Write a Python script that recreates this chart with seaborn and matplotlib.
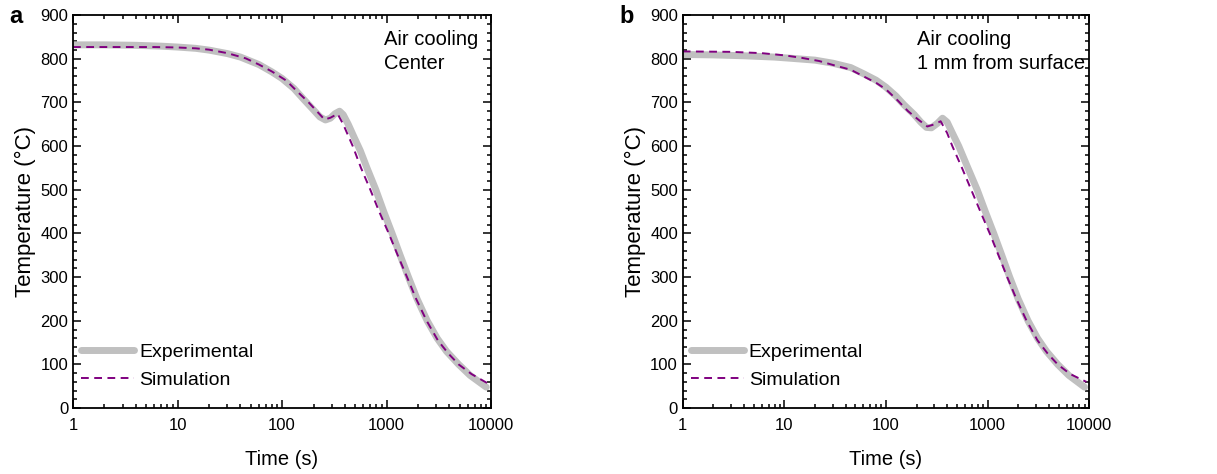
import matplotlib
matplotlib.use("Agg")
import matplotlib.pyplot as plt
from matplotlib.ticker import LogLocator, MultipleLocator, NullFormatter
import numpy as np
import pandas as pd
import seaborn as sns

# Panel a : center of sample
time_a_exp = [1, 2, 4, 7, 10, 15, 20, 30, 40, 60, 80, 100, 130, 160, 200, 230, 260,
              290, 320, 355, 385, 430, 490, 560, 650, 790, 940, 1130, 1350, 1620,
              1960, 2450, 3050, 3750, 4900, 6300, 9000]
temp_a_exp = [832, 832, 831, 829, 827, 824, 820, 812, 804, 787, 770, 755, 732, 708,
              683, 667, 660, 664, 674, 680, 672, 650, 620, 590, 550, 500, 450, 400,
              350, 300, 250, 200, 160, 130, 100, 75, 48]
time_a_sim = [1, 3, 6, 10, 15, 20, 30, 45, 60, 80, 110, 140, 180, 225, 255, 290, 340,
              385, 475, 570, 700, 850, 1050, 1280, 1570, 1920, 2420, 3100, 3900, 4900,
              6500, 9400]
temp_a_sim = [827, 827, 827, 826, 824, 821, 813, 801, 787, 771, 750, 725, 700, 675,
              661, 665, 674, 650, 600, 550, 500, 450, 400, 350, 300, 250, 200, 155,
              125, 100, 78, 56]

# Panel b : 1 mm from surface
time_b_exp = [1, 2, 4, 8, 12, 20, 30, 45, 60, 80, 100, 125, 150, 190, 220, 250, 280,
              320, 360, 400, 450, 520, 640, 790, 950, 1150, 1380, 1650, 2000, 2500,
              3100, 3800, 4900, 6300, 9000]
temp_b_exp = [810, 809, 807, 804, 801, 797, 790, 780, 766, 751, 735, 715, 695, 672,
              655, 643, 642, 652, 664, 655, 630, 600, 550, 500, 450, 400, 350, 300,
              250, 200, 160, 130, 100, 75, 48]
time_b_sim = [1, 3, 6, 10, 15, 22, 30, 45, 60, 80, 100, 130, 165, 210, 255, 300, 345,
              400, 450, 560, 690, 850, 1050, 1280, 1560, 1920, 2420, 3100, 3900, 4900,
              6500, 9400]
temp_b_sim = [817, 816, 813, 808, 802, 795, 786, 775, 760, 745, 730, 705, 680, 660,
              645, 650, 657, 630, 600, 550, 500, 450, 400, 350, 300, 250, 200, 155,
              125, 100, 78, 60]

panel_labels = ["a", "b"]
notes = ["Air cooling\nCenter", "Air cooling\n1 mm from surface"]

sns.set_theme(style="ticks")
plt.rcParams["font.family"] = ["Liberation Sans", "DejaVu Sans"]
plt.rcParams["text.color"] = "black"
plt.rcParams["axes.labelcolor"] = "black"

fig = plt.figure(figsize=(12.17, 4.74), dpi=100)
ax_a = fig.add_axes([0.060, 0.139, 0.3435, 0.829])
ax_b = fig.add_axes([0.561, 0.139, 0.334, 0.829])

panels = [
    (ax_a, time_a_exp, temp_a_exp, time_a_sim, temp_a_sim, 0.745),
    (ax_b, time_b_exp, temp_b_exp, time_b_sim, temp_b_sim, 0.577),
]

for i, (ax, tx, yx, ts, ys, note_x) in enumerate(panels):
    exp_df = pd.DataFrame({"time": tx, "temp": yx})
    sim_df = pd.DataFrame({"time": ts, "temp": ys})
    sns.lineplot(data=exp_df, x="time", y="temp", ax=ax, color="#c0c0c0",
                 lw=5, label="Experimental", solid_capstyle="round",
                 solid_joinstyle="round")
    sns.lineplot(data=sim_df, x="time", y="temp", ax=ax, color="#800080",
                 lw=1.4, ls=(0, (4, 2.8)), label="Simulation")

    ax.set_xscale("log")
    ax.set_xlim(1, 10000)
    ax.set_ylim(0, 900)
    ax.set_xticks([1, 10, 100, 1000, 10000])
    ax.set_xticklabels(["1", "10", "100", "1000", "10000"])
    ax.xaxis.set_minor_locator(LogLocator(base=10, subs=np.arange(2, 10)))
    ax.xaxis.set_minor_formatter(NullFormatter())
    ax.yaxis.set_major_locator(MultipleLocator(100))
    ax.yaxis.set_minor_locator(MultipleLocator(20))
    ax.tick_params(which="both", direction="in", top=True, right=True,
                   labelsize=12, width=1.1, colors="black")
    ax.tick_params(which="major", length=5.5)
    ax.tick_params(which="minor", length=3)
    ax.tick_params(axis="x", which="major", pad=7)
    for sp in ax.spines.values():
        sp.set_linewidth(1.3)
        sp.set_color("black")

    ax.set_xlabel("Time (s)", fontsize=14.5, labelpad=12)
    ax.set_ylabel("Temperature (°C)", fontsize=16, labelpad=3)

    ax.text(note_x, 0.963, notes[i], transform=ax.transAxes, fontsize=14.5,
            va="top", ha="left", linespacing=1.35)

    ax.legend(loc="lower left", bbox_to_anchor=(0.0, 0.03), frameon=False,
              fontsize=14, handlelength=2.75, handletextpad=0.25,
              labelspacing=0.5, borderaxespad=0.2, borderpad=0.2)

fig.text(0.008, 0.99, panel_labels[0], fontsize=17, weight="bold", va="top")
fig.text(0.509, 0.99, panel_labels[1], fontsize=17, weight="bold", va="top")

fig.savefig("out.png", dpi=100)
